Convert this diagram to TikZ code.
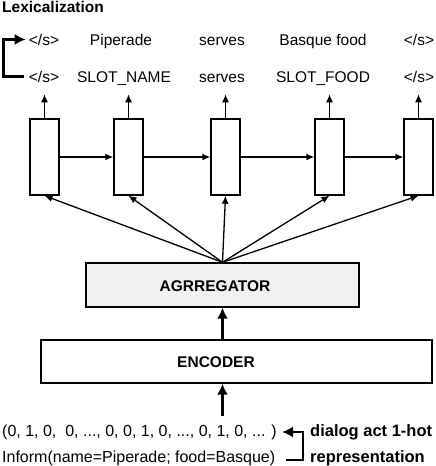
\documentclass[tikz,border=0pt]{standalone}
\usepackage{fontspec}
\setmainfont{Liberation Sans}
\usetikzlibrary{arrows.meta}
\definecolor{aggfill}{RGB}{243,241,239}
\tikzset{
  txt/.style={font=\fontsize{15.5}{18}\selectfont, inner sep=0pt, anchor=base},
  boldtxt/.style={txt, font=\fontsize{15.5}{18}\selectfont\bfseries},
  cell/.style={draw, line width=1.4pt, minimum width=29pt, minimum height=76pt, inner sep=0pt},
  blk/.style={draw, line width=1.4pt, inner sep=0pt},
  thinarrow/.style={-{Latex[length=8pt,width=7pt]}, line width=1.3pt},
  thickarrow/.style={-{Latex[length=11pt,width=11pt]}, line width=2.8pt},
}
\begin{document}
\begin{tikzpicture}[x=1pt,y=-1pt]
\useasboundingbox (0,0) rectangle (436,466);
\node[boldtxt, anchor=base west] (lex) at (2,12) {Lexicalization};

% words
\node[txt] (o1) at (44,45) {</s>};
\node[txt] (o2) at (121,45) {Piperade};
\node[txt] (o3) at (222,45) {serves};
\node[txt] (o4) at (323,45) {Basque food};
\node[txt] (o5) at (419,45) {</s>};
\node[txt] (i1) at (44,82) {</s>};
\node[txt] (i2) at (124,82) {SLOT\_NAME};
\node[txt] (i3) at (222,82) {serves};
\node[txt] (i4) at (323,82) {SLOT\_FOOD};
\node[txt] (i5) at (419,82) {</s>};
\draw[thickarrow] ([xshift=-5pt]i1.west) -- ++(-20,0) |- ([xshift=-3pt]o1.west);

% decoder cells
\foreach \x [count=\i] in {44.5,128.5,225.5,329.5,418.5}
  \node[cell] (c\i) at (\x,157) {};
\foreach \i/\j in {1/2,2/3,3/4,4/5}
  \draw[thinarrow] (c\i) -- (c\j);
\foreach \i in {1,...,5}
  \draw[thinarrow] (c\i.north) -- ++(0,-24);

% aggregator and encoder
\node[blk, fill=aggfill, minimum width=273pt, minimum height=44pt] (agg) at (222.5,285) {};
\node[boldtxt] (agglabel) at (215,291) {AGRREGATOR};
\node[blk, minimum width=391pt, minimum height=43pt] (enc) at (236.5,361.5) {};
\node[boldtxt] (enclabel) at (216,367) {ENCODER};
\foreach \i in {1,...,5}
  \draw[thinarrow] (agg.north) -- (c\i.south);
\draw[thickarrow] (enc.north -| agg.south) -- (agg.south);

% input
\node[txt, anchor=base west, font=\fontsize{16}{18}\selectfont] (vec) at (2,436) {(0, 1, 0,\ \ 0, ..., 0, 0, 1, 0, ..., 0, 1, 0, ... )};
\node[txt, anchor=base west, font=\fontsize{16}{18}\selectfont] (inform) at (2,462) {Inform(name=Piperade; food=Basque)};
\coordinate (vectop) at (222.5,416);
\draw[thickarrow] (vectop) -- (enc.south -| vectop);
\coordinate (b1) at (286,460);
\coordinate (b2) at (282,432);
\draw[thickarrow] (b1) -- ++(17,0) |- (b2);
\node[boldtxt, anchor=base west, font=\fontsize{16.5}{18}\selectfont\bfseries] (da1) at (310,436) {dialog act 1-hot};
\node[boldtxt, anchor=base west, font=\fontsize{16.5}{18}\selectfont\bfseries] (da2) at (310,462) {representation};
\end{tikzpicture}
\end{document}
